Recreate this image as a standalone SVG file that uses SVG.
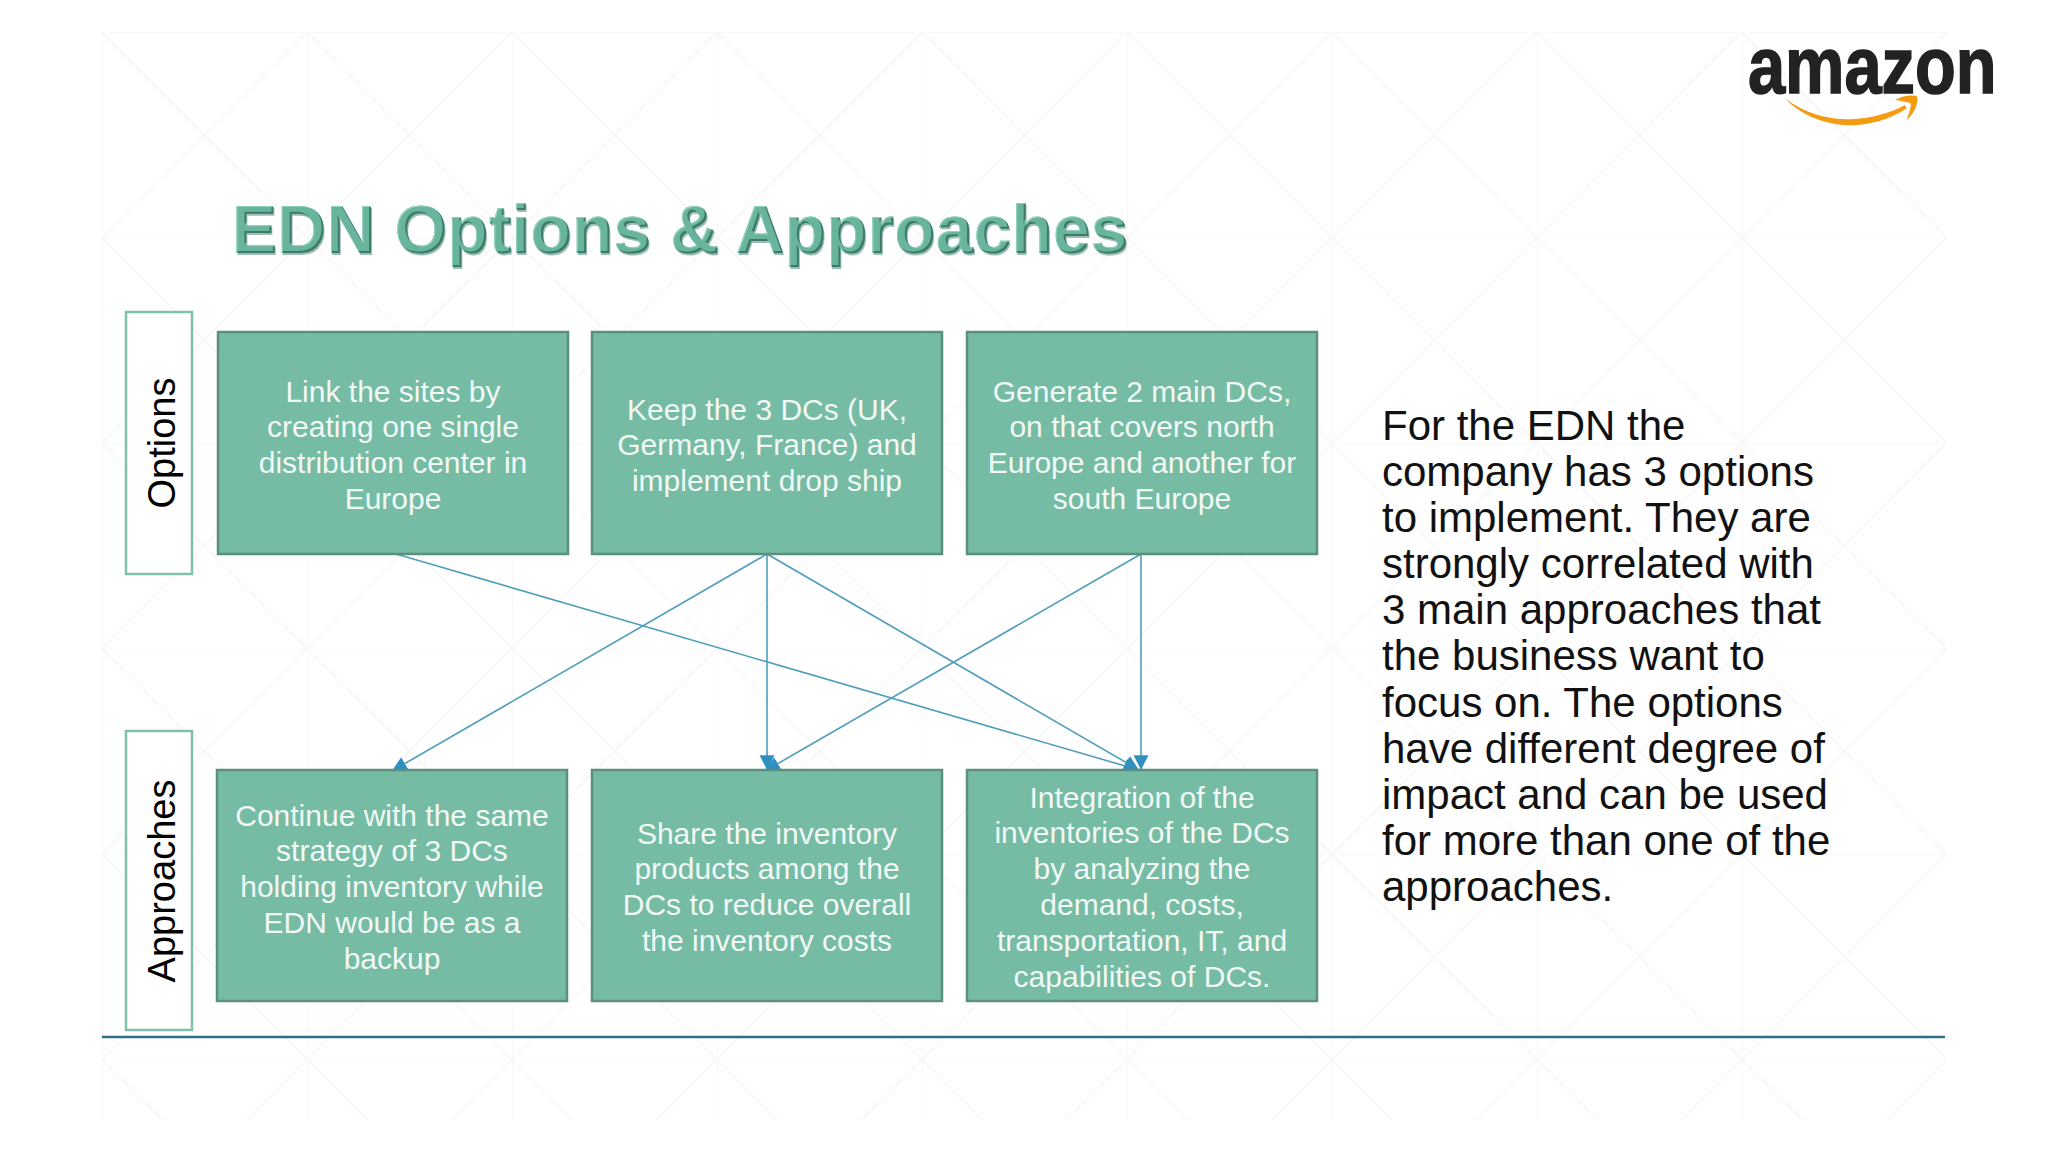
<svg xmlns="http://www.w3.org/2000/svg" width="2048" height="1152" viewBox="0 0 2048 1152">
<style>
text{font-family:"Liberation Sans",Arial,sans-serif}
.box{fill:#76bca4;stroke:#5b8f7e;stroke-width:2.5}
.side{fill:#fff;stroke:#80bfa9;stroke-width:2.5}
.t{fill:#f1f8f5;font-size:30px;text-anchor:middle}
.s{fill:#000;font-size:38px;text-anchor:middle}
.b{fill:#111;font-size:42px}
.c{fill:none;stroke:#4f9dbd;stroke-width:1.6;marker-end:url(#ah)}
</style>
<defs>
<pattern id="grid" patternUnits="userSpaceOnUse" x="102" y="32" width="205" height="205.5">
<path d="M0 0H205M0 0V205.5M0 0L205 205.5M205 0L0 205.5" fill="none" stroke="#f6f6f6" stroke-width="1.5"/>
</pattern>
<marker id="ah" markerUnits="userSpaceOnUse" markerWidth="16" markerHeight="16" refX="13" refY="7" orient="auto" viewBox="0 0 14 14">
<path d="M0 0.5L13 7L0 13.5Z" fill="#2f8fbf"/>
</marker>
<filter id="bevel" x="-2%" y="-10%" width="104%" height="120%">
<feOffset in="SourceAlpha" dx="-1.6" dy="-1.6" result="o1"/>
<feComposite in="SourceAlpha" in2="o1" operator="out" result="e1"/>
<feFlood flood-color="#3d7a69"/>
<feComposite in2="e1" operator="in" result="dark"/>
<feOffset in="SourceAlpha" dx="1.4" dy="1.4" result="o2"/>
<feComposite in="SourceAlpha" in2="o2" operator="out" result="e2"/>
<feFlood flood-color="#8fd2ba"/>
<feComposite in2="e2" operator="in" result="light"/>
<feOffset in="SourceAlpha" dx="1" dy="1.5" result="o3"/>
<feFlood flood-color="#4e8878" flood-opacity=".55"/>
<feComposite in2="o3" operator="in" result="sh"/>
<feMerge><feMergeNode in="sh"/><feMergeNode in="SourceGraphic"/><feMergeNode in="dark"/><feMergeNode in="light"/></feMerge>
</filter>
</defs>
<rect width="2048" height="1152" fill="#fff"/>
<rect x="102" y="32" width="1845" height="1088" fill="url(#grid)"/>
<path d="M102 1037H1945" stroke="#2f6f8a" stroke-width="2.5"/>
<g id="logo">
<text x="0" y="93" transform="translate(1748 0) scale(.845 1)" font-size="79" font-weight="700" fill="#222" stroke="#222" stroke-width="1.5">amazon</text>
<g transform="translate(1720 20) scale(.3333)" fill="#f49b12">
<path d="M195 235C250 280 330 300 390 298C450 296 510 280 555 255L560 265C510 300 440 318 380 316C310 312 240 285 195 235Z"/>
<path d="M525 240C550 226 580 224 592 230C596 250 582 282 560 300C568 278 574 260 572 250C560 246 540 242 525 240Z"/>
</g>
</g>
<text id="title" x="232" y="253" font-size="68" font-weight="700" fill="#69b49d" filter="url(#bevel)">EDN Options &amp; Approaches</text>
<g id="connectors">
<path class="c" d="M396 554L1139 770"/>
<path class="c" d="M767 554L392 771"/>
<path class="c" d="M767 554V770"/>
<path class="c" d="M767 554L1139 770"/>
<path class="c" d="M1141 554L765 771"/>
<path class="c" d="M1141 554V770"/>
</g>
<g id="label-options"><rect class="side" x="126" y="312" width="66" height="262"/>
<text class="s" transform="translate(175 443) rotate(-90)">Options</text></g>
<g id="label-approaches"><rect class="side" x="126" y="731" width="66" height="299"/>
<text class="s" transform="translate(175 881) rotate(-90)">Approaches</text></g>
<g id="option-1"><rect class="box" x="218" y="332" width="350" height="222"/>
<text class="t" x="393"><tspan x="393" y="402">Link the sites by</tspan><tspan x="393" y="437">creating one single</tspan><tspan x="393" y="473">distribution center in</tspan><tspan x="393" y="509">Europe</tspan></text></g>
<g id="option-2"><rect class="box" x="592" y="332" width="350" height="222"/>
<text class="t"><tspan x="767" y="420">Keep the 3 DCs (UK,</tspan><tspan x="767" y="455">Germany, France) and</tspan><tspan x="767" y="491">implement drop ship</tspan></text></g>
<g id="option-3"><rect class="box" x="967" y="332" width="350" height="222"/>
<text class="t"><tspan x="1142" y="402">Generate 2 main DCs,</tspan><tspan x="1142" y="437">on that covers north</tspan><tspan x="1142" y="473">Europe and another for</tspan><tspan x="1142" y="509">south Europe</tspan></text></g>
<g id="approach-1"><rect class="box" x="217" y="770" width="350" height="231"/>
<text class="t"><tspan x="392" y="826">Continue with the same</tspan><tspan x="392" y="861">strategy of 3 DCs</tspan><tspan x="392" y="897">holding inventory while</tspan><tspan x="392" y="933">EDN would be as a</tspan><tspan x="392" y="969">backup</tspan></text></g>
<g id="approach-2"><rect class="box" x="592" y="770" width="350" height="231"/>
<text class="t"><tspan x="767" y="844">Share the inventory</tspan><tspan x="767" y="879">products among the</tspan><tspan x="767" y="915">DCs to reduce overall</tspan><tspan x="767" y="951">the inventory costs</tspan></text></g>
<g id="approach-3"><rect class="box" x="967" y="770" width="350" height="231"/>
<text class="t"><tspan x="1142" y="808">Integration of the</tspan><tspan x="1142" y="843">inventories of the DCs</tspan><tspan x="1142" y="879">by analyzing the</tspan><tspan x="1142" y="915">demand, costs,</tspan><tspan x="1142" y="951">transportation, IT, and</tspan><tspan x="1142" y="987">capabilities of DCs.</tspan></text></g>
<g id="description"><text class="b"><tspan x="1382" y="440">For the EDN the</tspan><tspan x="1382" y="486">company has 3 options</tspan><tspan x="1382" y="532">to implement. They are</tspan><tspan x="1382" y="578">strongly correlated with</tspan><tspan x="1382" y="624">3 main approaches that</tspan><tspan x="1382" y="670">the business want to</tspan><tspan x="1382" y="717">focus on. The options</tspan><tspan x="1382" y="763">have different degree of</tspan><tspan x="1382" y="809">impact and can be used</tspan><tspan x="1382" y="855">for more than one of the</tspan><tspan x="1382" y="901">approaches.</tspan></text></g>
</svg>
